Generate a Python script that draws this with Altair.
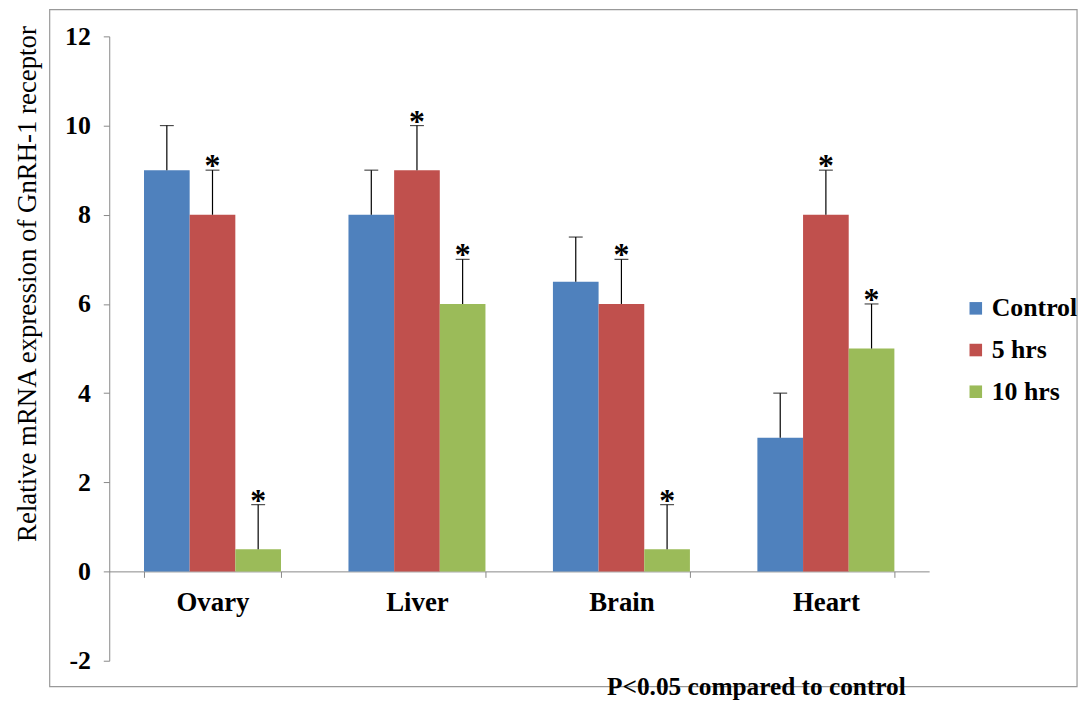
import altair as alt
import pandas as pd

organs = ["Ovary", "Liver", "Brain", "Heart"]
groups = ["Control", "5 hrs", "10 hrs"]
control = [9, 8, 6.5, 3]
hrs5 = [8, 9, 6, 8]
hrs10 = [0.5, 6, 0.5, 5]
err_control = [1, 1, 1, 1]
err_5 = [1, 1, 1, 1]
err_10 = [1, 1, 1, 1]
sig_control = [False, False, False, False]
sig_5 = [True, True, True, True]
sig_10 = [True, True, True, True]
colors = ["#4F81BD", "#C0504D", "#9BBB59"]
footnote = "P<0.05 compared to control"
ytitle = "Relative mRNA expression of GnRH-1 receptor"

rows = []
for g, vals, errs, sigs in zip(groups, [control, hrs5, hrs10],
                               [err_control, err_5, err_10],
                               [sig_control, sig_5, sig_10]):
    for o, v, e, s in zip(organs, vals, errs, sigs):
        rows.append({"organ": o, "group": g, "value": v,
                     "upper": v + e, "star": "*" if s else ""})
df = pd.DataFrame(rows)

FONT = "Times New Roman, Liberation Serif, serif"
W, H = 826, 629

x = alt.X("organ:N", sort=organs,
          scale=alt.Scale(paddingInner=0.33, paddingOuter=0.17),
          axis=alt.Axis(title=None, labelAngle=0, offset=-90, tickBand="extent",
                        tickSize=6, labelPadding=12, labelFont=FONT,
                        labelFontSize=27, labelFontWeight="bold",
                        labelColor="black", domainColor="#888888",
                        tickColor="#888888"))
xo = alt.XOffset("group:N", sort=groups,
                 scale=alt.Scale(paddingInner=0, paddingOuter=0))
yscale = alt.Scale(domain=[-2, 12], nice=False)

base = alt.Chart(df).encode(x=x, xOffset=xo)

bars = base.mark_bar().encode(
    y=alt.Y("value:Q", scale=yscale,
            axis=alt.Axis(values=list(range(-2, 13, 2)), grid=False,
                          labelExpr="'' + datum.value",
                          title=ytitle, titleFont=FONT, titleFontSize=27,
                          titleFontWeight="normal", titleColor="black",
                          titleX=-82, titleY=249, titleAngle=-90,
                          titleAlign="center", titleBaseline="middle",
                          labelFont=FONT, labelFontSize=26,
                          labelFontWeight="bold", labelColor="black",
                          labelPadding=13, tickSize=6, domainColor="#888888",
                          tickColor="#888888")),
    color=alt.Color("group:N", sort=groups,
                    scale=alt.Scale(domain=groups, range=colors),
                    legend=alt.Legend(title=None, orient="none", legendX=860,
                                      legendY=261, symbolType="square",
                                      symbolSize=160, symbolStrokeWidth=0,
                                      labelFont=FONT, labelFontSize=26,
                                      labelFontWeight="bold",
                                      labelColor="black", rowPadding=16,
                                      labelOffset=3)),
)

rules = base.mark_rule(color="black", strokeWidth=1.2).encode(
    y=alt.Y("value:Q", scale=yscale), y2="upper:Q")
caps = base.mark_tick(color="black", thickness=1.2, size=14,
                      orient="horizontal").encode(
    y=alt.Y("upper:Q", scale=yscale))
stars = base.mark_text(font=FONT, fontSize=32, fontWeight="bold",
                       color="black", baseline="alphabetic", dy=6).encode(
    y=alt.Y("upper:Q", scale=yscale), text="star:N")

frame = alt.Chart(pd.DataFrame({"a": [0]})).mark_rect(
    fill=None, stroke="#999999", strokeWidth=1.2).encode(
    x=alt.value(-60), x2=alt.value(975), y=alt.value(-27), y2=alt.value(655))
note = alt.Chart(pd.DataFrame({"t": [footnote]})).mark_text(
    font=FONT, fontSize=25.5, fontWeight="bold", color="black",
    baseline="middle", align="center").encode(
    x=alt.value(652), y=alt.value(656), text="t:N")

chart = alt.layer(frame, bars, rules, caps, stars, note).properties(
    width=W, height=H,
    background="white",
    autosize=alt.AutoSizeParams(type="none"),
    padding={"left": 102, "top": 26, "right": 154, "bottom": 39},
).configure_view(strokeOpacity=0, strokeWidth=0)

chart.save("out.html", embed_options={"renderer": "svg", "actions": False})
